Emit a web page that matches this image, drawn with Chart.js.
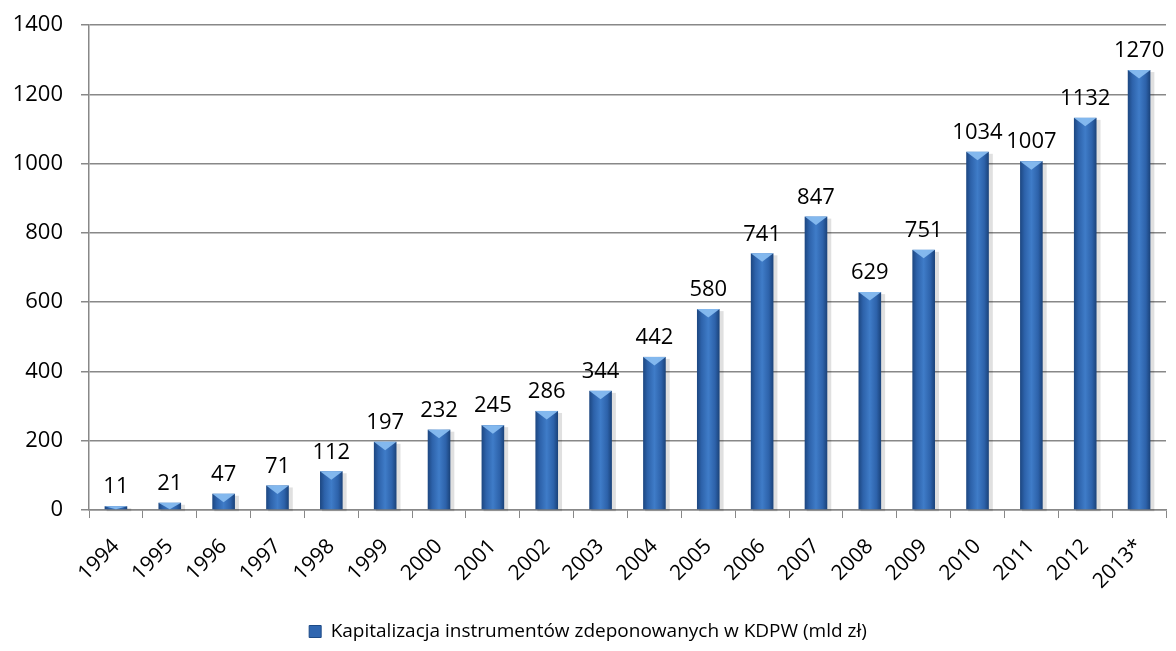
<!DOCTYPE html>
<html>
<head>
<meta charset="utf-8">
<script src="https://cdn.jsdelivr.net/npm/chart.js@4.4.0/dist/chart.umd.min.js"></script>
<style>
    html, body { margin: 0; padding: 0; background: #ffffff; }
    #wrap { width: 1176px; height: 651px; }
</style>
</head>
<body>
<div id="wrap"><canvas id="capChart" width="1176" height="651"></canvas></div>
<script>
// Kapitalizacja instrumentów w KDPW
const years = ['1994', '1995', '1996', '1997', '1998', '1999', '2000', '2001', '2002', '2003',
    '2004', '2005', '2006', '2007', '2008', '2009', '2010', '2011', '2012', '2013*'];
const capitalisation = [11, 21, 47, 71, 112, 197, 232, 245, 286, 344,
    442, 580, 741, 847, 629, 751, 1034, 1007, 1132, 1270];
const yTicks = [0, 200, 400, 600, 800, 1000, 1200, 1400];
const seriesName = 'Kapitalizacja instrumentów zdeponowanych w KDPW (mld zł)';

const FONT = '"Open Sans", "Liberation Sans", sans-serif';

// bevel look: gradient body, light triangle on top, value label above
const barDecor = {
    id: 'barDecor',
    afterDatasetsDraw(chart) {
        const ctx = chart.ctx;
        const meta = chart.getDatasetMeta(0);
        ctx.save();
        meta.data.forEach((bar, i) => {
            const half = bar.width / 2;
            const x0 = bar.x - half;
            const hgt = bar.base - bar.y;

            // soft shadow on the right
            ctx.fillStyle = 'rgba(0, 0, 0, 0.12)';
            ctx.fillRect(x0 + 2, bar.y + 2, bar.width + 2, hgt);

            const g = ctx.createLinearGradient(x0, 0, x0 + bar.width, 0);
            g.addColorStop(0, '#1c4680');
            g.addColorStop(0.2, '#2d62aa');
            g.addColorStop(0.5, '#3f7cc8');
            g.addColorStop(0.8, '#2d62aa');
            g.addColorStop(1, '#1a4279');
            ctx.fillStyle = g;
            ctx.fillRect(x0, bar.y, bar.width, hgt);

            const h = Math.min(hgt, half * 0.75);
            ctx.fillStyle = 'rgba(135, 188, 240, 0.95)';
            ctx.beginPath();
            ctx.moveTo(x0, bar.y);
            ctx.lineTo(x0 + bar.width, bar.y);
            ctx.lineTo(bar.x, bar.y + h);
            ctx.closePath();
            ctx.fill();

            ctx.fillStyle = '#000000';
            ctx.font = '22px ' + FONT;
            ctx.textAlign = 'center';
            ctx.textBaseline = 'bottom';
            ctx.fillText(String(capitalisation[i]), bar.x, bar.y - 8);
        });
        ctx.restore();
    }
};

new Chart(document.getElementById('capChart'), {
    type: 'bar',
    data: {
        labels: years,
        datasets: [{
            label: seriesName,
            data: capitalisation,
            backgroundColor: 'rgba(0,0,0,0)',
            borderWidth: 0,
            barPercentage: 0.42,
            categoryPercentage: 1.0
        }]
    },
    options: {
        responsive: false,
        animation: false,
        layout: {
            padding: { top: 0, right: 10, left: 10, bottom: 0 }
        },
        plugins: {
            legend: {
                position: 'bottom',
                labels: {
                    color: '#000000',
                    font: { family: FONT, size: 19 },
                    boxWidth: 12,
                    boxHeight: 12,
                    padding: 4,
                    generateLabels() {
                        return [{ text: seriesName, fillStyle: '#2f66b0', strokeStyle: '#1d4a86', lineWidth: 1 }];
                    }
                }
            },
            tooltip: { enabled: false }
        },
        scales: {
            x: {
                afterFit(axis) {
                    axis.height += 8;
                },
                grid: {
                    offset: true,
                    drawOnChartArea: false,
                    color: '#888888',
                    tickLength: 8
                },
                border: { color: '#888888', width: 1.5 },
                ticks: {
                    color: '#000000',
                    font: { family: FONT, size: 21 },
                    maxRotation: 45,
                    minRotation: 45,
                    padding: 16
                }
            },
            y: {
                min: 0,
                max: 1400,
                afterBuildTicks(axis) {
                    axis.ticks = yTicks.map(v => ({ value: v }));
                },
                afterFit(axis) {
                    axis.width = 79;
                    axis.paddingTop = 25;
                },
                grid: {
                    color: '#888888',
                    lineWidth: 1.5,
                    tickLength: 8
                },
                border: { color: '#888888', width: 1.5 },
                ticks: {
                    color: '#000000',
                    font: { family: FONT, size: 22 },
                    padding: 18,
                    callback: v => String(v)
                }
            }
        }
    },
    plugins: [barDecor]
});
</script>
</body>
</html>
